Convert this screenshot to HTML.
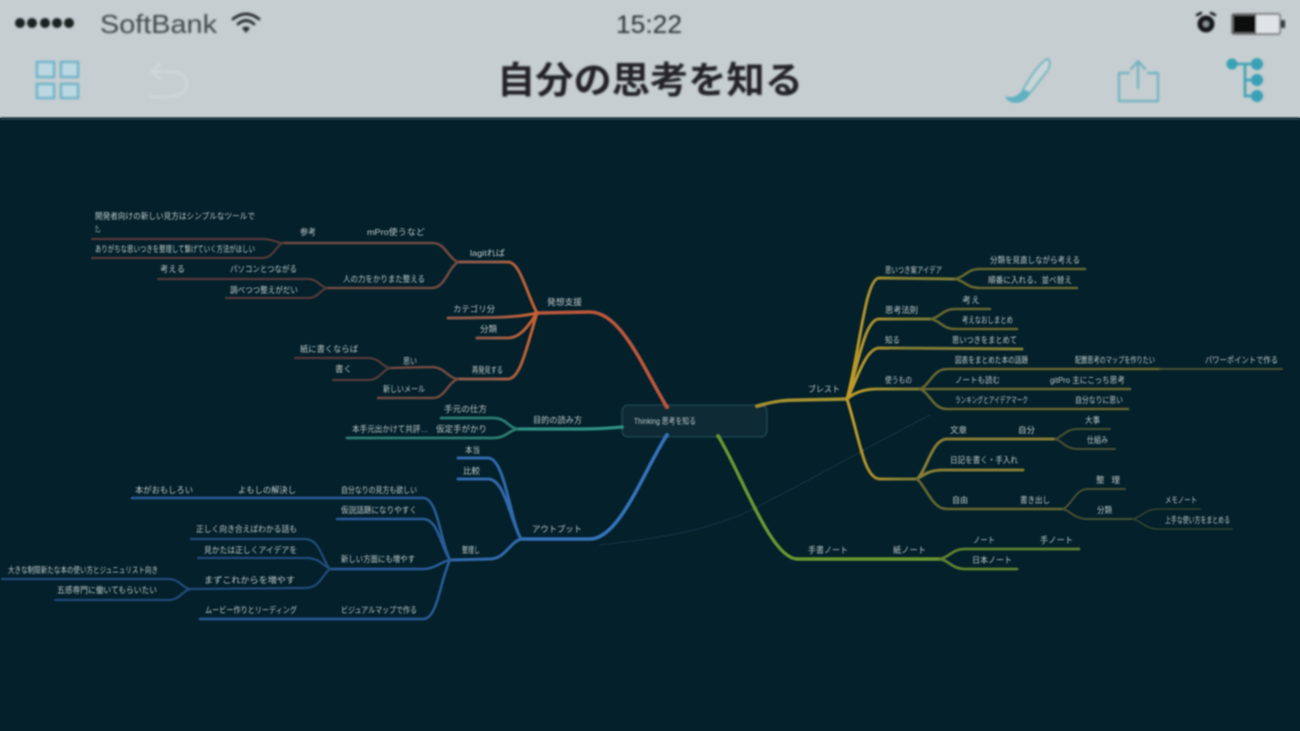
<!DOCTYPE html>
<html lang="ja"><head><meta charset="utf-8"><title>自分の思考を知る</title>
<style>
html,body{margin:0;padding:0;width:1300px;height:731px;overflow:hidden;background:#03202b}
svg{display:block;position:absolute;left:0;top:0}
.t{font-family:"Liberation Sans","Noto Sans CJK JP",sans-serif;font-size:8.5px;fill:#bcc8c8}
path{fill:none;stroke-linecap:round;stroke-linejoin:round}
.r1{stroke:#b9563a;stroke-width:3.6}.r2{stroke:url(#gr);stroke-width:3}.r3{stroke:#6f4a40;stroke-width:2.6}.r4{stroke:#553a39;stroke-width:2.2}
.y1{stroke:#a38f2e;stroke-width:3.4}.yc{stroke:url(#gy);stroke-width:3}.y2{stroke:#857c34;stroke-width:3}.y3{stroke:#66672f;stroke-width:2.6}.y4{stroke:#4a5130;stroke-width:2}.y5{stroke:#34442f;stroke-width:1.6}
.b1{stroke:#3672b8;stroke-width:3.6}.b2{stroke:#3069ab;stroke-width:3}.b3{stroke:#2a5c97;stroke-width:2.6}.b4{stroke:#234c7a;stroke-width:2.2}
.g1{stroke:#2f8f80;stroke-width:3.2}.g2{stroke:#2a7b6f;stroke-width:2.8}
.v1{stroke:#6a9631;stroke-width:3.4}.v2{stroke:#5c802e;stroke-width:2.8}
</style></head><body>
<svg width="1300" height="731" viewBox="0 0 1300 731" xmlns="http://www.w3.org/2000/svg">
<defs>
<filter id="bh" x="-5%" y="-5%" width="110%" height="110%"><feGaussianBlur stdDeviation="1.1"/></filter>
<filter id="bm" x="-5%" y="-5%" width="110%" height="110%"><feGaussianBlur stdDeviation="0.8"/></filter>
<filter id="bt" x="-5%" y="-5%" width="110%" height="110%"><feGaussianBlur stdDeviation="0.7"/></filter>
<linearGradient id="gy" gradientUnits="userSpaceOnUse" x1="850" y1="0" x2="905" y2="0"><stop offset="0" stop-color="#c09a26"/><stop offset="1" stop-color="#7f7b36"/></linearGradient>
<linearGradient id="gr" gradientUnits="userSpaceOnUse" x1="537" y1="0" x2="490" y2="0"><stop offset="0" stop-color="#c9602f"/><stop offset="1" stop-color="#8b5a4a"/></linearGradient>
</defs>
<rect x="0" y="0" width="1300" height="731" fill="#03202b"/>
<rect x="0" y="0" width="1300" height="118" fill="#c6ced1"/>
<rect x="0" y="117" width="1300" height="3" fill="#2a424c" filter="url(#bh)"/>

<g filter="url(#bh)">
<g fill="#1c2024"><circle cx="20" cy="23" r="5"/><circle cx="32" cy="23" r="5"/><circle cx="45" cy="23" r="5"/><circle cx="57" cy="23" r="5"/><circle cx="69" cy="23" r="5"/></g>
<text x="100" y="33" font-family="Liberation Sans,sans-serif" font-size="26" fill="#40464a" textLength="117" lengthAdjust="spacingAndGlyphs">SoftBank</text>
<path d="M233 19 Q246 9 259 19" style="stroke:#2a2e32;stroke-width:2.8"/><path d="M238 24 Q246 17 254 24" style="stroke:#2a2e32;stroke-width:2.8"/>
<path d="M242 28 L246 33 L250 28 Q246 25 242 28Z" style="fill:#2a2e32;stroke:none"/>
<text x="649" y="33" text-anchor="middle" font-family="Liberation Sans,sans-serif" font-size="25" fill="#2c3135" textLength="66" lengthAdjust="spacingAndGlyphs">15:22</text>
<circle cx="1206" cy="24" r="8.5" fill="#15181b"/><circle cx="1206" cy="24" r="3" fill="#8d9598"/><path d="M1197 15 L1201 13 M1215 15 L1211 13" style="stroke:#15181b;stroke-width:2.5"/>
<rect x="1232" y="14" width="48" height="20" rx="2" fill="#dfe4e6" stroke="#55595c" stroke-width="1.4"/>
<rect x="1233" y="15" width="23" height="18" fill="#0c0e10"/>
<rect x="1281" y="20" width="4" height="8" rx="1" fill="#33383b"/>
<text x="650" y="93" text-anchor="middle" font-family="Liberation Sans,'Noto Sans CJK JP',sans-serif" font-weight="700" font-size="37" fill="#202428" textLength="306" lengthAdjust="spacingAndGlyphs">自分の思考を知る</text>
<g fill="#bcd9e2" stroke="#6fb5c9" stroke-width="2.6">
<rect x="37" y="62" width="17" height="15"/><rect x="61" y="62" width="17" height="15"/><rect x="37" y="84" width="17" height="14"/><rect x="61" y="84" width="17" height="14"/></g>
<path d="M160 64 L152 72 L160 79 M153 72 Q187 68 187 84 Q186 97 165 97 L150 97" style="stroke:#d1d7d9;stroke-width:2.4"/>
<path d="M1047 59 Q1052 60 1048 70 L1030 93 L1023 90 Q1036 66 1047 59Z" style="fill:#c8d6d9;stroke:#74b3c0;stroke-width:2"/>
<path d="M1006 97 Q1016 100 1023 90 L1030 93 Q1024 104 1012 102 Q1007 100 1006 97Z" style="fill:#5fb0c2;stroke:#5fb0c2;stroke-width:1"/>
<path d="M1129 73 L1119 73 L1119 101 L1158 101 L1158 73 L1148 73" style="stroke:#74b3bf;stroke-width:2.4"/>
<path d="M1138 88 L1138 62 M1131 69 L1138 61 L1145 69" style="stroke:#74b3bf;stroke-width:2.4"/>
<path d="M1232 64 L1256 64 M1245 64 L1245 96 L1256 96 M1245 80 L1256 80" style="stroke:#3d9fb2;stroke-width:2.6"/>
<g fill="#39a1b5"><circle cx="1232" cy="64" r="5.5"/><circle cx="1257" cy="64" r="6"/><circle cx="1257" cy="80" r="6"/><circle cx="1257" cy="96" r="6"/></g>
</g>

<g filter="url(#bm)">
<path d="M600 545 C 660 538 720 530 770 500 C 830 470 880 440 930 415" style="stroke:#0e2c37;stroke-width:2"/>
<rect x="622" y="405" width="145" height="32" rx="6" fill="#0a2a34" stroke="#1b414b" stroke-width="1.6"/>

<path class="r1" d="M667 407 C 645 372 622 312 590 312 L 537 313"/>
<path class="r2" d="M537 313 C 526 292 520 262 508 262 L 458 262"/>
<path class="r2" d="M537 313 C 525 316 510 318 448 318"/>
<path class="r2" d="M537 313 C 526 330 518 338 508 338 L 477 338"/>
<path class="r2" d="M537 313 C 526 350 520 379 508 379 L 458 379"/>
<path class="r3" d="M458 262 C 448 258 445 243 433 243 L 283 243"/>
<path class="r3" d="M458 262 C 448 268 445 288 432 288 L 327 288"/>
<path class="r3" d="M458 379 C 448 378 445 368 433 367 L 390 368"/>
<path class="r3" d="M458 379 C 448 382 445 398 433 398 L 378 398"/>
<path class="r4" d="M283 243 C 276 243 274 239 262 239 L 92 239"/>
<path class="r4" d="M283 243 C 276 245 274 258 262 258 L 92 258"/>
<path class="r4" d="M327 288 C 320 287 318 279 308 279 L 158 279"/>
<path class="r4" d="M327 288 C 320 290 318 298 308 298 L 226 298"/>
<path class="r4" d="M390 368 C 382 367 380 358 368 358 L 295 358"/>
<path class="r4" d="M390 368 C 382 370 380 380 368 380 L 333 380"/>

<path class="g1" d="M622 427 C 600 429 590 429 570 429 L 517 429"/>
<path class="g2" d="M517 429 C 508 427 506 418 493 418 L 441 418"/>
<path class="g2" d="M517 429 C 508 431 506 438 493 438 L 347 438"/>

<path class="b1" d="M667 435 C 645 468 620 539 590 539 L 521 539"/>
<path class="b2" d="M521 539 C 510 520 505 458 488 458 L 458 458"/>
<path class="b2" d="M521 539 C 510 520 505 479 488 479 L 458 479"/>
<path class="b2" d="M521 539 C 510 542 505 559 490 559 L 450 560"/>
<path class="b3" d="M450 560 C 440 540 438 498 423 498 L 132 498"/>
<path class="b3" d="M450 560 C 440 545 438 519 423 519 L 337 519"/>
<path class="b3" d="M450 560 C 440 562 435 569 423 569 L 330 569"/>
<path class="b3" d="M450 560 C 440 580 438 619 423 619 L 200 619"/>
<path class="b4" d="M330 569 C 322 560 320 539 305 539 L 191 539"/>
<path class="b4" d="M330 569 C 322 565 320 558 305 558 L 198 558"/>
<path class="b4" d="M330 569 C 322 575 320 588 305 588 L 190 589"/>
<path class="b4" d="M190 589 C 182 588 180 579 168 579 L 2 579"/>
<path class="b4" d="M190 589 C 182 591 180 600 168 600 L 55 600"/>

<path class="y1" d="M757 406 C 775 401 785 400 800 400 L 847 399"/>
<path class="yc" d="M847 399 C 860 350 865 279 879 278 L 955 279"/>
<path class="yc" d="M847 399 C 858 365 865 319 879 319 L 931 319"/>
<path class="yc" d="M847 399 C 857 380 865 349 879 348 L 1022 349"/>
<path class="yc" d="M847 399 C 855 392 865 389 877 389 L 920 389"/>
<path class="yc" d="M847 399 C 860 440 864 479 880 479 L 917 479"/>
<path class="y3" d="M955 279 C 965 277 967 269 980 269 L 1085 269"/>
<path class="y3" d="M955 279 C 965 281 967 288 980 288 L 1077 288"/>
<path class="y3" d="M931 319 C 941 317 943 309 955 309 L 990 309"/>
<path class="y3" d="M931 319 C 941 321 943 329 955 329 L 1017 329"/>
<path class="y3" d="M920 389 C 930 385 933 369 947 369 L 1160 369"/>
<path class="y4" d="M1160 369 L 1282 369"/>
<path class="y3" d="M920 389 L 1130 389"/>
<path class="y3" d="M920 389 C 930 393 933 409 947 409 L 1128 409"/>
<path class="y2" d="M917 479 C 927 470 932 439 947 439 L 1055 439"/>
<path class="y2" d="M917 479 C 925 474 930 470 943 470 L 1023 470"/>
<path class="y3" d="M917 479 C 927 488 932 509 947 509 L 1063 509"/>
<path class="y4" d="M1055 439 C 1063 437 1065 429 1078 429 L 1110 429"/>
<path class="y4" d="M1055 439 C 1063 441 1065 449 1078 449 L 1115 449"/>
<path class="y4" d="M1063 509 C 1072 505 1075 489 1088 489 L 1125 489"/>
<path class="y4" d="M1063 509 C 1072 512 1075 519 1088 519 L 1133 519"/>
<path class="y5" d="M1133 519 C 1142 517 1145 509 1158 509 L 1200 509"/>
<path class="y5" d="M1133 519 C 1142 521 1145 529 1158 529 L 1232 529"/>

<path class="v1" d="M718 436 C 740 470 770 558 797 559 L 940 559"/>
<path class="v2" d="M940 559 C 950 557 952 549 965 549 L 1079 549"/>
<path class="v2" d="M940 559 C 950 561 952 569 965 569 L 1017 569"/>
</g>

<g filter="url(#bt)">
<text class="t" x="634" y="424" textLength="62" lengthAdjust="spacingAndGlyphs">Thinking 思考を知る</text>
<text class="t" x="95" y="219" textLength="160" lengthAdjust="spacingAndGlyphs">開発者向けの新しい見方はシンプルなツールで</text>
<text class="t" x="95" y="232" textLength="8" lengthAdjust="spacingAndGlyphs">た。</text>
<text class="t" x="95" y="252" textLength="160" lengthAdjust="spacingAndGlyphs">ありがちな思いつきを整理して繋げていく方法がほしい</text>
<text class="t" x="300" y="235" textLength="16" lengthAdjust="spacingAndGlyphs">参考</text>
<text class="t" x="367" y="235" textLength="58" lengthAdjust="spacingAndGlyphs">mPro使うなど</text>
<text class="t" x="470" y="256" textLength="35" lengthAdjust="spacingAndGlyphs">lagitれば</text>
<text class="t" x="343" y="282" textLength="82" lengthAdjust="spacingAndGlyphs">人の力をかりまた整える</text>
<text class="t" x="160" y="272" textLength="25" lengthAdjust="spacingAndGlyphs">考える</text>
<text class="t" x="230" y="272" textLength="67" lengthAdjust="spacingAndGlyphs">パソコンとつながる</text>
<text class="t" x="230" y="293" textLength="68" lengthAdjust="spacingAndGlyphs">調べつつ整えがだい</text>
<text class="t" x="547" y="305" textLength="35" lengthAdjust="spacingAndGlyphs">発想支援</text>
<text class="t" x="453" y="312" textLength="42" lengthAdjust="spacingAndGlyphs">カテゴリ分</text>
<text class="t" x="480" y="332" textLength="17" lengthAdjust="spacingAndGlyphs">分類</text>
<text class="t" x="472" y="373" textLength="31" lengthAdjust="spacingAndGlyphs">再発見する</text>
<text class="t" x="403" y="364" textLength="14" lengthAdjust="spacingAndGlyphs">思い</text>
<text class="t" x="383" y="392" textLength="42" lengthAdjust="spacingAndGlyphs">新しいメール</text>
<text class="t" x="300" y="352" textLength="58" lengthAdjust="spacingAndGlyphs">紙に書くならば</text>
<text class="t" x="335" y="372" textLength="17" lengthAdjust="spacingAndGlyphs">書く</text>

<text class="t" x="444" y="412" textLength="43" lengthAdjust="spacingAndGlyphs">手元の仕方</text>
<text class="t" x="533" y="423" textLength="49" lengthAdjust="spacingAndGlyphs">目的の読み方</text>
<text class="t" x="352" y="432" textLength="76" lengthAdjust="spacingAndGlyphs">本手元出かけて共評…</text>
<text class="t" x="436" y="432" textLength="51" lengthAdjust="spacingAndGlyphs">仮定手がかり</text>

<text class="t" x="465" y="453" textLength="15" lengthAdjust="spacingAndGlyphs">本当</text>
<text class="t" x="463" y="474" textLength="17" lengthAdjust="spacingAndGlyphs">比較</text>
<text class="t" x="532" y="532" textLength="50" lengthAdjust="spacingAndGlyphs">アウトプット</text>
<text class="t" x="462" y="553" textLength="18" lengthAdjust="spacingAndGlyphs">整理し</text>
<text class="t" x="341" y="493" textLength="76" lengthAdjust="spacingAndGlyphs">自分なりの見方も欲しい</text>
<text class="t" x="341" y="513" textLength="76" lengthAdjust="spacingAndGlyphs">仮説話題になりやすく</text>
<text class="t" x="341" y="562" textLength="74" lengthAdjust="spacingAndGlyphs">新しい方面にも増やす</text>
<text class="t" x="341" y="613" textLength="76" lengthAdjust="spacingAndGlyphs">ビジュアルマップで作る</text>
<text class="t" x="135" y="493" textLength="58" lengthAdjust="spacingAndGlyphs">本がおもしろい</text>
<text class="t" x="238" y="493" textLength="58" lengthAdjust="spacingAndGlyphs">よもしの解決し</text>
<text class="t" x="196" y="532" textLength="101" lengthAdjust="spacingAndGlyphs">正しく向き合えばわかる話も</text>
<text class="t" x="204" y="553" textLength="93" lengthAdjust="spacingAndGlyphs">見かたは正しくアイデアを</text>
<text class="t" x="204" y="583" textLength="91" lengthAdjust="spacingAndGlyphs">まずこれからを増やす</text>
<text class="t" x="205" y="613" textLength="92" lengthAdjust="spacingAndGlyphs">ムービー作りとリーディング</text>
<text class="t" x="8" y="573" textLength="150" lengthAdjust="spacingAndGlyphs">大きな制限新たな本の使い方とジュニュリスト向き</text>
<text class="t" x="57" y="593" textLength="100" lengthAdjust="spacingAndGlyphs">五感専門に働いてもらいたい</text>

<text class="t" x="808" y="392" textLength="32" lengthAdjust="spacingAndGlyphs">ブレスト</text>
<text class="t" x="885" y="273" textLength="57" lengthAdjust="spacingAndGlyphs">思いつき案アイデア</text>
<text class="t" x="990" y="263" textLength="90" lengthAdjust="spacingAndGlyphs">分類を見直しながら考える</text>
<text class="t" x="988" y="283" textLength="84" lengthAdjust="spacingAndGlyphs">順番に入れる、並べ替え</text>
<text class="t" x="885" y="313" textLength="33" lengthAdjust="spacingAndGlyphs">思考法則</text>
<text class="t" x="962" y="303" textLength="18" lengthAdjust="spacingAndGlyphs">考え</text>
<text class="t" x="962" y="323" textLength="51" lengthAdjust="spacingAndGlyphs">考えなおしまとめ</text>
<text class="t" x="885" y="343" textLength="15" lengthAdjust="spacingAndGlyphs">知る</text>
<text class="t" x="952" y="343" textLength="65" lengthAdjust="spacingAndGlyphs">思いつきをまとめて</text>
<text class="t" x="885" y="383" textLength="27" lengthAdjust="spacingAndGlyphs">使うもの</text>
<text class="t" x="955" y="363" textLength="73" lengthAdjust="spacingAndGlyphs">図表をまとめた本の話題</text>
<text class="t" x="955" y="383" textLength="45" lengthAdjust="spacingAndGlyphs">ノートも読む</text>
<text class="t" x="955" y="403" textLength="73" lengthAdjust="spacingAndGlyphs">ランキングとアイデアマーク</text>
<text class="t" x="1075" y="363" textLength="80" lengthAdjust="spacingAndGlyphs">配置思考のマップを作りたい</text>
<text class="t" x="1205" y="363" textLength="73" lengthAdjust="spacingAndGlyphs">パワーポイントで作る</text>
<text class="t" x="1050" y="383" textLength="75" lengthAdjust="spacingAndGlyphs">gitPro 主にこっち思考</text>
<text class="t" x="1075" y="403" textLength="48" lengthAdjust="spacingAndGlyphs">自分なりに思い</text>
<text class="t" x="1085" y="423" textLength="15" lengthAdjust="spacingAndGlyphs">大事</text>
<text class="t" x="1087" y="443" textLength="21" lengthAdjust="spacingAndGlyphs">仕組み</text>
<text class="t" x="1018" y="433" textLength="17" lengthAdjust="spacingAndGlyphs">自分</text>
<text class="t" x="950" y="433" textLength="17" lengthAdjust="spacingAndGlyphs">文章</text>
<text class="t" x="950" y="463" textLength="68" lengthAdjust="spacingAndGlyphs">日記を書く・手入れ</text>
<text class="t" x="952" y="503" textLength="16" lengthAdjust="spacingAndGlyphs">自由</text>
<text class="t" x="1020" y="503" textLength="30" lengthAdjust="spacingAndGlyphs">書き出し</text>
<text class="t" x="1096" y="483" textLength="24" lengthAdjust="spacing">整理</text>
<text class="t" x="1097" y="513" textLength="15" lengthAdjust="spacingAndGlyphs">分類</text>
<text class="t" x="1165" y="503" textLength="32" lengthAdjust="spacingAndGlyphs">メモノート</text>
<text class="t" x="1165" y="523" textLength="65" lengthAdjust="spacingAndGlyphs">上手な使い方をまとめる</text>
<text class="t" x="808" y="553" textLength="40" lengthAdjust="spacingAndGlyphs">手書ノート</text>
<text class="t" x="893" y="553" textLength="33" lengthAdjust="spacingAndGlyphs">紙ノート</text>
<text class="t" x="973" y="543" textLength="22" lengthAdjust="spacingAndGlyphs">ノート</text>
<text class="t" x="1040" y="543" textLength="33" lengthAdjust="spacingAndGlyphs">手ノート</text>
<text class="t" x="972" y="563" textLength="40" lengthAdjust="spacingAndGlyphs">日本ノート</text>
</g>
</svg>
</body></html>
